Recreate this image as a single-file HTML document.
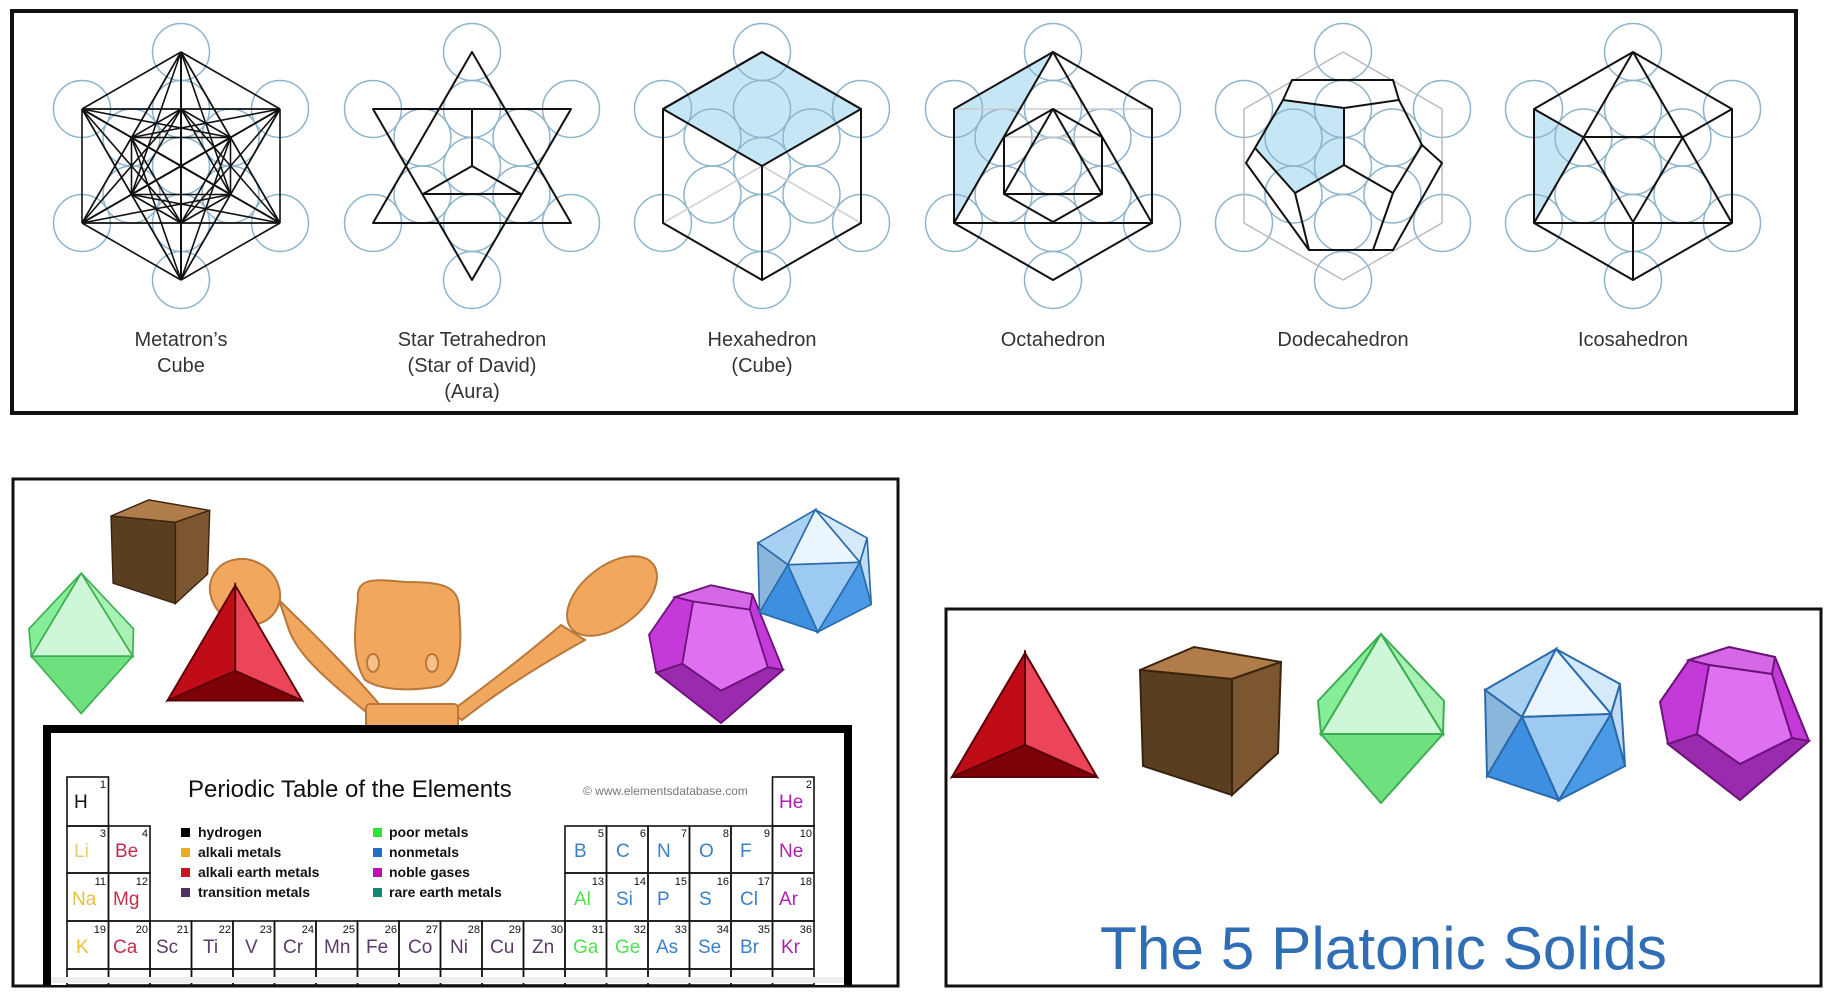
<!DOCTYPE html>
<html><head><meta charset="utf-8"><style>
html,body{margin:0;padding:0;background:#fff;}
svg{display:block;}
.lbl{font-family:"Liberation Sans",sans-serif;font-size:20px;fill:#333;text-anchor:middle;}
.sym{font-family:"Liberation Sans",sans-serif;font-size:19px;}
.num{font-family:"Liberation Sans",sans-serif;font-size:11px;text-anchor:end;fill:#111;}
.lg{font-family:"Liberation Sans",sans-serif;font-size:14px;font-weight:bold;fill:#111;}
</style></head><body>
<svg id="s" width="1831" height="1006" viewBox="0 0 1831 1006" xmlns="http://www.w3.org/2000/svg">
<rect x="0" y="0" width="1831" height="1006" fill="#fff"/>
<!-- top box -->
<rect x="12" y="11" width="1784" height="402" fill="#fff" stroke="#111" stroke-width="4"/>
<g id="topfig"></g>
<text class="lbl" x="181" y="346">Metatron’s</text>
<text class="lbl" x="181" y="372">Cube</text>
<text class="lbl" x="472" y="346">Star Tetrahedron</text>
<text class="lbl" x="472" y="372">(Star of David)</text>
<text class="lbl" x="472" y="398">(Aura)</text>
<text class="lbl" x="762" y="346">Hexahedron</text>
<text class="lbl" x="762" y="372">(Cube)</text>
<text class="lbl" x="1053" y="346">Octahedron</text>
<text class="lbl" x="1343" y="346">Dodecahedron</text>
<text class="lbl" x="1633" y="346">Icosahedron</text>

<!-- bottom-right box -->
<rect x="946" y="609" width="875" height="377" fill="#fff" stroke="#111" stroke-width="3"/>
<g id="red">
<polygon points="1025,653 952,777 1025,745" fill="#c00c16" stroke="#5a0008" stroke-width="2"/>
<polygon points="1025,653 1025,745 1097,777" fill="#ec4458" stroke="#5a0008" stroke-width="2"/>
<polygon points="952,777 1025,745 1097,777" fill="#7d0208" stroke="#5a0008" stroke-width="2"/>
</g>
<g id="brown">
<polygon points="1140,670 1194,647 1281,662 1232,679" fill="#b07c4a" stroke="#3a2410" stroke-width="2"/>
<polygon points="1140,670 1232,679 1232,795 1143,766" fill="#5a3e20" stroke="#3a2410" stroke-width="2"/>
<polygon points="1232,679 1281,662 1278,753 1232,795" fill="#7c5630" stroke="#3a2410" stroke-width="2"/>
</g>
<g id="green">
<polygon points="1381,634 1318,701 1321,734" fill="#86ee98" stroke="#3eae52" stroke-width="2"/>
<polygon points="1381,634 1444,701 1443,734" fill="#a8f0b4" stroke="#3eae52" stroke-width="2"/>
<polygon points="1381,634 1321,734 1443,734" fill="#cdf7d6" stroke="#3eae52" stroke-width="2"/>
<polygon points="1321,734 1443,734 1381,803" fill="#6ee07e" stroke="#3eae52" stroke-width="2"/>
</g>
<g id="blue">
<polygon points="1556,649 1485,690 1522,717" fill="#a8d0f0" stroke="#2a6aaa" stroke-width="2"/>
<polygon points="1556,649 1620,684 1611,714" fill="#d4eafa" stroke="#2a6aaa" stroke-width="2"/>
<polygon points="1556,649 1522,717 1611,714" fill="#eaf5fd" stroke="#2a6aaa" stroke-width="2"/>
<polygon points="1485,690 1522,717 1487,776" fill="#8ab6dc" stroke="#2a6aaa" stroke-width="2"/>
<polygon points="1620,684 1611,714 1625,766" fill="#c0dcf4" stroke="#2a6aaa" stroke-width="2"/>
<polygon points="1522,717 1611,714 1559,800" fill="#9ccaf2" stroke="#2a6aaa" stroke-width="2"/>
<polygon points="1522,717 1487,776 1559,800" fill="#3d8fe0" stroke="#2a6aaa" stroke-width="2"/>
<polygon points="1611,714 1625,766 1559,800" fill="#4a9ae6" stroke="#2a6aaa" stroke-width="2"/>
</g>
<g id="purple">
<polygon points="1689,660 1729,647 1775,657 1809,741 1740,800 1668,744 1660,702" fill="#c43ad8" stroke="#6a1478" stroke-width="2"/>
<polygon points="1689,660 1729,647 1775,657 1772,674 1709,665" fill="#d668e8" stroke="#6a1478" stroke-width="2"/>
<polygon points="1668,744 1697,734 1740,764 1792,738 1809,741 1740,800" fill="#9a2aae" stroke="#6a1478" stroke-width="2"/>
<polygon points="1709,665 1772,674 1792,738 1740,764 1697,734" fill="#e070f2" stroke="#6a1478" stroke-width="2"/>
</g>
<text x="1100" y="969" textLength="567" lengthAdjust="spacingAndGlyphs" style="font-family:'Liberation Sans Narrow','Liberation Sans',sans-serif;font-size:60px;fill:#2f6db5;">The 5 Platonic Solids</text>

<!-- bottom-left box -->
<rect x="13" y="479" width="885" height="507" fill="#fff" stroke="#111" stroke-width="3"/>
<use href="#brown" transform="translate(-687,47) scale(0.7)"/>
<use href="#green" transform="translate(-1065,47) scale(0.83)"/>
<!-- figure -->
<g fill="#f2a75e" stroke="#b8783a" stroke-width="2">
<path d="M289,630 C300,660 340,690 366,712 L380,705 C350,670 320,640 279,600 Z"/>
<ellipse cx="245" cy="592" rx="36" ry="32" transform="rotate(30 245 592)"/>
<path d="M561,625 C520,660 480,690 450,712 L462,720 C500,690 540,665 585,640 Z"/>
<ellipse cx="612" cy="596" rx="52" ry="30" transform="rotate(-38 612 596)"/>
<rect x="366" y="704" width="92" height="28" rx="4"/>
<path d="M358,600 C355,575 380,580 406,582 C440,582 460,585 459,610 C462,640 462,675 440,686 C410,692 380,690 365,680 C352,660 354,630 358,600 Z"/>
<ellipse cx="373" cy="663" rx="6" ry="9" fill="#f6c08a"/>
<ellipse cx="432" cy="663" rx="6" ry="9" fill="#f6c08a"/>
</g>
<use href="#red" transform="translate(-718,-22) scale(0.93)"/>
<use href="#purple" transform="translate(-845,3) scale(0.9)"/>
<use href="#blue" transform="translate(-445,-16) scale(0.81)"/>
<!-- periodic frame -->
<path d="M47,985 L47,729 L848,729 L848,985" fill="#fff" stroke="#000" stroke-width="8"/>
<g id="ptable" stroke="#111" stroke-width="1.6" fill="none"></g>
<text x="188" y="797" style="font-family:'Liberation Sans',sans-serif;font-size:24px;fill:#111;">Periodic Table of the Elements</text>
<text x="583" y="795" style="font-family:'Liberation Sans',sans-serif;font-size:12px;fill:#777;">© www.elementsdatabase.com</text>
<rect x="181" y="828" width="9" height="9" fill="#000"/><text class="lg" x="198" y="837">hydrogen</text>
<rect x="181" y="848" width="9" height="9" fill="#e8b020"/><text class="lg" x="198" y="857">alkali metals</text>
<rect x="181" y="868" width="9" height="9" fill="#d01020"/><text class="lg" x="198" y="877">alkali earth metals</text>
<rect x="181" y="888" width="9" height="9" fill="#503060"/><text class="lg" x="198" y="897">transition metals</text>
<rect x="373" y="828" width="9" height="9" fill="#30e040"/><text class="lg" x="389" y="837">poor metals</text>
<rect x="373" y="848" width="9" height="9" fill="#2070c8"/><text class="lg" x="389" y="857">nonmetals</text>
<rect x="373" y="868" width="9" height="9" fill="#c010b0"/><text class="lg" x="389" y="877">noble gases</text>
<rect x="373" y="888" width="9" height="9" fill="#108870"/><text class="lg" x="389" y="897">rare earth metals</text>
<g id="ptext">
<text class="sym" x="74" y="808" fill="#111">H</text><text class="num" x="106" y="788">1</text>
<text class="sym" x="779" y="808" fill="#b020b0">He</text><text class="num" x="812" y="788">2</text>

<text class="sym" x="74" y="857" fill="#e8c870">Li</text><text class="num" x="106" y="837">3</text>
<text class="sym" x="115" y="857" fill="#c0304a">Be</text><text class="num" x="148" y="837">4</text>
<text class="sym" x="574" y="857" fill="#3a80c8">B</text><text class="num" x="604" y="837">5</text>
<text class="sym" x="616" y="857" fill="#3a80c8">C</text><text class="num" x="646" y="837">6</text>
<text class="sym" x="657" y="857" fill="#3a80c8">N</text><text class="num" x="687" y="837">7</text>
<text class="sym" x="699" y="857" fill="#3a80c8">O</text><text class="num" x="729" y="837">8</text>
<text class="sym" x="740" y="857" fill="#3a80c8">F</text><text class="num" x="770" y="837">9</text>
<text class="sym" x="779" y="857" fill="#b020b0">Ne</text><text class="num" x="812" y="837">10</text>

<text class="sym" x="72" y="905" fill="#e8c040">Na</text><text class="num" x="106" y="885">11</text>
<text class="sym" x="113" y="905" fill="#c0304a">Mg</text><text class="num" x="148" y="885">12</text>
<text class="sym" x="574" y="905" fill="#50e050">Al</text><text class="num" x="604" y="885">13</text>
<text class="sym" x="616" y="905" fill="#3a80c8">Si</text><text class="num" x="646" y="885">14</text>
<text class="sym" x="657" y="905" fill="#3a80c8">P</text><text class="num" x="687" y="885">15</text>
<text class="sym" x="699" y="905" fill="#3a80c8">S</text><text class="num" x="729" y="885">16</text>
<text class="sym" x="740" y="905" fill="#3a80c8">Cl</text><text class="num" x="770" y="885">17</text>
<text class="sym" x="779" y="905" fill="#b020b0">Ar</text><text class="num" x="812" y="885">18</text>

<text class="sym" x="76" y="953" fill="#e8c030">K</text><text class="num" x="106" y="933">19</text>
<text class="sym" x="113" y="953" fill="#c0304a">Ca</text><text class="num" x="148" y="933">20</text>
<text class="sym" x="156" y="953" fill="#5a3a6a">Sc</text><text class="num" x="189" y="933">21</text>
<text class="sym" x="203" y="953" fill="#5a3a6a">Ti</text><text class="num" x="231" y="933">22</text>
<text class="sym" x="245" y="953" fill="#5a3a6a">V</text><text class="num" x="272" y="933">23</text>
<text class="sym" x="283" y="953" fill="#5a3a6a">Cr</text><text class="num" x="314" y="933">24</text>
<text class="sym" x="324" y="953" fill="#5a3a6a">Mn</text><text class="num" x="355" y="933">25</text>
<text class="sym" x="366" y="953" fill="#5a3a6a">Fe</text><text class="num" x="397" y="933">26</text>
<text class="sym" x="408" y="953" fill="#5a3a6a">Co</text><text class="num" x="438" y="933">27</text>
<text class="sym" x="450" y="953" fill="#5a3a6a">Ni</text><text class="num" x="480" y="933">28</text>
<text class="sym" x="490" y="953" fill="#5a3a6a">Cu</text><text class="num" x="521" y="933">29</text>
<text class="sym" x="532" y="953" fill="#5a3a6a">Zn</text><text class="num" x="563" y="933">30</text>
<text class="sym" x="573" y="953" fill="#50e050">Ga</text><text class="num" x="604" y="933">31</text>
<text class="sym" x="615" y="953" fill="#50e050">Ge</text><text class="num" x="646" y="933">32</text>
<text class="sym" x="656" y="953" fill="#3a80c8">As</text><text class="num" x="687" y="933">33</text>
<text class="sym" x="698" y="953" fill="#3a80c8">Se</text><text class="num" x="729" y="933">34</text>
<text class="sym" x="740" y="953" fill="#3a80c8">Br</text><text class="num" x="770" y="933">35</text>
<text class="sym" x="781" y="953" fill="#b020b0">Kr</text><text class="num" x="812" y="933">36</text>
</g>
<rect x="51" y="977" width="793" height="6" fill="#eee"/>
</svg>
<script>
(function(){
var NS="http://www.w3.org/2000/svg";
function el(p,t,a){var e=document.createElementNS(NS,t);for(var k in a)e.setAttribute(k,a[k]);p.appendChild(e);return e;}
var g=document.getElementById('topfig');
var cxs=[181,472,762,1053,1343,1633], cy=166;
var outer=[[0,-114],[99,-57],[99,57],[0,114],[-99,57],[-99,-57]];
var inner=outer.map(function(p){return [p[0]/2,p[1]/2];});
function P(cx,pts){return pts.map(function(p){return (cx+p[0])+','+(cy+p[1]);}).join(' ');}
function line(cx,a,b,c,w){el(g,'line',{x1:cx+a[0],y1:cy+a[1],x2:cx+b[0],y2:cy+b[1],stroke:c||'#111','stroke-width':w||2});}
function poly(cx,pts,f,s,w){el(g,'polygon',{points:P(cx,pts),fill:f||'none',stroke:s||'none','stroke-width':w||2,'stroke-linejoin':'round'});}
function circles(cx){var all=[[0,0]].concat(inner,outer);all.forEach(function(p){el(g,'circle',{cx:cx+p[0],cy:cy+p[1],r:28.5,fill:'none',stroke:'#8db4cc','stroke-width':1.5});});}
// fills first
poly(762,[[0,-114],[99,-57],[0,0],[-99,-57]],'#c6e6f5');
poly(1053,[[0,-114],[-99,-57],[-99,57]],'#c6e6f5');
poly(1343,[[-60,-66],[1,-58],[1,-1],[-48,27],[-88,-18]],'#c6e6f5');
poly(1633,[[-99,-57],[-50,-29],[-99,57]],'#c6e6f5');
cxs.forEach(circles);
// Metatron
var pts=[[0,0]].concat(inner,outer);
for(var i=0;i<pts.length;i++)for(var j=i+1;j<pts.length;j++)line(181,pts[i],pts[j],'#111',1.6);
// Star tetra
var c=472;
poly(c,[[0,-114],[-99,57],[99,57]],'none','#111');
poly(c,[[-99,-57],[99,-57],[0,114]],'none','#111');
line(c,[0,-57],[0,0]);line(c,[0,0],[-49,28]);line(c,[0,0],[49,28]);line(c,[-49,28],[49,28]);
// Hexahedron
c=762;
line(c,[0,0],[-99,57],'#ccc',1.5);line(c,[0,0],[99,57],'#ccc',1.5);line(c,[0,0],[0,57],'#ccc',1.5);
poly(c,outer,'none','#111');
poly(c,[[0,-114],[99,-57],[0,0],[-99,-57]],'none','#111');
line(c,[0,0],[0,114]);
// Octahedron
c=1053;
line(c,[-99,-57],[99,-57],'#ccc',1.5);line(c,[-49,-29],[49,-29],'#ccc',1.5);line(c,[-99,57],[0,114],'#ccc',1.5);line(c,[99,57],[0,114],'#ccc',1.5);
poly(c,outer,'none','#111');
poly(c,[[0,-114],[-99,57],[99,57]],'none','#111');
poly(c,[[0,-57],[-49,-29],[-49,28],[0,56],[49,28],[49,-29]],'none','#111');
poly(c,[[0,-57],[-49,28],[49,28]],'none','#111');
// Dodecahedron
c=1343;
poly(c,outer,'none','#bbb',1.5);
poly(c,[[-51,-86],[50,-86],[56,-66],[79,-21],[99,-3],[50,84],[-34,84],[-97,-3],[-88,-18],[-60,-66]],'none','#111');
line(c,[-60,-66],[1,-58]);line(c,[1,-58],[56,-66]);line(c,[1,-58],[1,-1]);
line(c,[1,-1],[-48,27]);line(c,[1,-1],[50,27]);line(c,[-48,27],[-88,-18]);line(c,[50,27],[79,-21]);
line(c,[-48,27],[-34,84]);line(c,[50,27],[30,84]);
// Icosahedron
c=1633;
poly(c,outer,'none','#111');
line(c,[0,-114],[-99,57]);line(c,[0,-114],[99,57]);line(c,[-50,-29],[50,-29]);
line(c,[-99,-57],[-50,-29]);line(c,[99,-57],[50,-29]);
line(c,[-50,-29],[0,56]);line(c,[50,-29],[0,56]);line(c,[-99,57],[99,57]);line(c,[0,56],[0,114]);
// periodic table cells
var pt=document.getElementById('ptable');
var X=function(i){return 67+41.5*i;}, tops=[777,826,873,921,969];
function cell(col,row){el(pt,'rect',{x:X(col),y:tops[row],width:41.5,height:(tops[row+1]||985)-tops[row]});}
cell(0,0);cell(17,0);
[0,1,12,13,14,15,16,17].forEach(function(k){cell(k,1);cell(k,2);});
for(var k=0;k<18;k++){cell(k,3);cell(k,4);}
})();
</script>
</body></html>
